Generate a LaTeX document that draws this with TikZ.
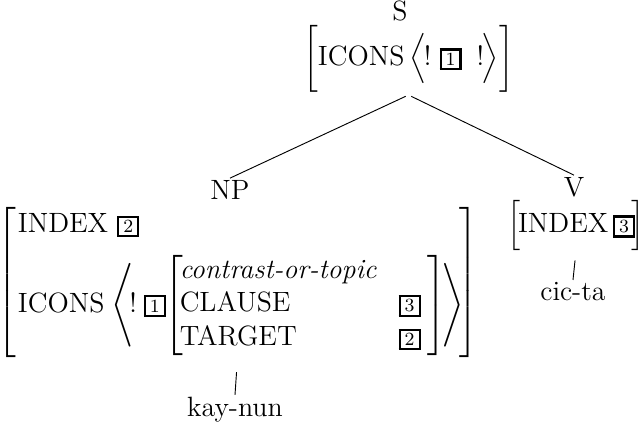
\documentclass[12pt,tikz,border=0pt]{standalone}
\usepackage{amsmath}
\newcommand{\tagbox}[1]{{\setlength{\fboxsep}{1.1pt}\setlength{\fboxrule}{0.9pt}\fbox{\hspace{0.6pt}\scriptsize #1\hspace{0.6pt}}}}
\tikzset{
  avm/.style={inner sep=0pt},
  cat/.style={inner sep=1pt, anchor=base},
  word/.style={inner sep=1pt, anchor=base},
  branch/.style={line width=0.4pt, shorten <=1.3pt},
  stem/.style={line width=0.4pt}
}
\begin{document}
\begin{tikzpicture}[x=0.43pt,y=-0.43pt]
\useasboundingbox (0,0) rectangle (641,425);

% S
\node[cat] (s) at (400,21) {S};
\node[avm] (savm) at (408.5,58.5) {$\left[\text{ICONS}\hspace{2pt}\Big\langle\hspace{-1pt}!\hspace{3.5pt}\tagbox{1}\hspace{6.5pt}!\hspace{-1pt}\Big\rangle\rule[-12.5pt]{0pt}{31pt}\right]$};

% NP
\node[cat] (np) at (230,200) {NP};
\node[avm] (npavm) at (237.5,282.5) {$\left[\begin{array}{@{\hspace{1pt}}l@{}}
  \text{INDEX}\ \tagbox{2}\\[5pt]
  \text{ICONS}\hspace{1pt}\left\langle\hspace{-2pt}!\hspace{3pt}\tagbox{1}\hspace{-2.5pt}\left[\begin{array}{@{\hspace{-1.5pt}}l@{\hspace{9.5pt}}l@{\hspace{3pt}}}
    \textit{contrast-or-topic} & \\
    \text{CLAUSE} & \tagbox{3}\\
    \text{TARGET} & \tagbox{2}
  \end{array}\right]\hspace{-2pt}\right\rangle\hspace{-2pt}
\end{array}\right]$};

% V
\node[cat] (v) at (574,197) {V};
\node[avm] (vavm) at (576,225.5) {$\left[\hspace{-1pt}\text{INDEX}\hspace{2pt}\tagbox{3}\hspace{-1.5pt}\rule[-7.75pt]{0pt}{21.5pt}\right]$};

% words
\node[word] (kay) at (235,417) {kay-nun};
\node[word] (cic) at (573,301) {cic-ta};

% branches
\draw[branch] (savm.south) -- (np.north);
\draw[branch] (savm.south) -- (v.north);
\draw[stem, shorten <=6pt] (npavm.south) -- (kay.north);
\draw[stem, shorten <=4pt] (vavm.south) -- (cic.north);
\end{tikzpicture}
\end{document}
